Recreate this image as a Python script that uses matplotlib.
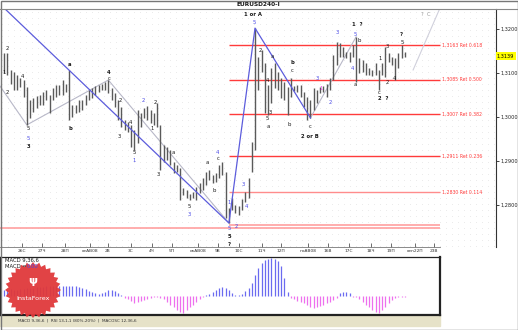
#!/usr/bin/env python3
"""EURUSD H4 wave count chart with fib levels and MACD histogram."""

import matplotlib
matplotlib.use("Agg")
import matplotlib.pyplot as plt
import numpy as np
from matplotlib.patches import Polygon, Rectangle

# ------------------------------------------------------------
# Data
# ------------------------------------------------------------
highs = [
    1.3145, 1.3145, 1.3107, 1.3102, 1.3095, 1.3089, 1.3084, 1.3068, 1.3039, 1.3043,
    1.3048, 1.3050, 1.3057, 1.3061, 1.3050, 1.3066, 1.3073, 1.3073, 1.3084, 1.3075,
    1.3107, 1.3027, 1.3027, 1.3039, 1.3039, 1.3050, 1.3061, 1.3066, 1.3070, 1.3073,
    1.3075, 1.3080, 1.3084, 1.3066, 1.3055, 1.3039, 1.3023, 1.2993, 1.2989, 1.2982,
    1.2970, 1.3016, 1.3009, 1.3020, 1.3025, 1.3016, 1.3009, 1.3032, 1.2982, 1.2936,
    1.2932, 1.2925, 1.2898, 1.2891, 1.2884, 1.2839, 1.2834, 1.2825, 1.2830, 1.2841,
    1.2850, 1.2861, 1.2875, 1.2880, 1.2868, 1.2873, 1.2891, 1.2898, 1.2875, 1.2793,
    1.2816, 1.2800, 1.2798, 1.2814, 1.2830, 1.2861, 1.2943, 1.3202, 1.3136, 1.3152,
    1.3123, 1.3073, 1.3111, 1.3123, 1.3102, 1.3089, 1.3080, 1.3068, 1.3089, 1.3070,
    1.3073, 1.3073, 1.3057, 1.3045, 1.3039, 1.3066, 1.3061, 1.3068, 1.3070, 1.3075,
    1.3089, 1.3141, 1.3170, 1.3168, 1.3159, 1.3148, 1.3148, 1.3163, 1.3182, 1.3134,
    1.3130, 1.3123, 1.3111, 1.3107, 1.3123, 1.3107, 1.3123, 1.3159, 1.3145, 1.3136,
    1.3134, 1.3145, 1.3163, 1.3148,
]
lows = [
    1.3100, 1.3095, 1.3075, 1.3061, 1.3061, 1.3068, 1.3045, 1.2982, 1.2998, 1.3011,
    1.3020, 1.3027, 1.3027, 1.3039, 1.3009, 1.3039, 1.3045, 1.3050, 1.3050, 1.3057,
    1.2993, 1.3000, 1.3009, 1.3011, 1.3016, 1.3027, 1.3039, 1.3043, 1.3050, 1.3057,
    1.3061, 1.3061, 1.3055, 1.3039, 1.3023, 1.2993, 1.2977, 1.2970, 1.2966, 1.2932,
    1.2925, 1.2941, 1.2977, 1.2998, 1.2993, 1.2986, 1.2982, 1.2977, 1.2880, 1.2898,
    1.2902, 1.2891, 1.2873, 1.2875, 1.2811, 1.2823, 1.2816, 1.2811, 1.2816, 1.2811,
    1.2827, 1.2834, 1.2845, 1.2857, 1.2850, 1.2852, 1.2861, 1.2868, 1.2770, 1.2759,
    1.2789, 1.2782, 1.2777, 1.2789, 1.2807, 1.2816, 1.2875, 1.2925, 1.3061, 1.3102,
    1.3009, 1.3005, 1.3032, 1.3066, 1.3061, 1.3043, 1.3039, 1.3005, 1.3045, 1.3059,
    1.3057, 1.3045, 1.3023, 1.2993, 1.2998, 1.3016, 1.3032, 1.3055, 1.3057, 1.3045,
    1.3061, 1.3084, 1.3118, 1.3136, 1.3136, 1.3134, 1.3125, 1.3136, 1.3080, 1.3100,
    1.3102, 1.3095, 1.3095, 1.3093, 1.3095, 1.3061, 1.3095, 1.3091, 1.3125, 1.3118,
    1.3084, 1.3111, 1.3134, 1.3136,
]
# MACD histogram, one value per bar
macd_hist = [
    0.0006, 0.0007, 0.0007, 0.0006, 0.0006, 0.0007, 0.0007, 0.0008, 0.0008, 0.0008,
    0.0009, 0.0009, 0.0009, 0.0010, 0.0010, 0.0010, 0.0011, 0.0011, 0.0011, 0.0011,
    0.0011, 0.0010, 0.0010, 0.0009, 0.0008, 0.0007, 0.0005, 0.0004, 0.0003, 0.0002,
    0.0003, 0.0004, 0.0006, 0.0006, 0.0005, 0.0003, 0.0001, -0.0002, -0.0003, -0.0005,
    -0.0007, -0.0006, -0.0005, -0.0004, -0.0003, -0.0002, -0.0001, -0.0001, -0.0002, -0.0003,
    -0.0006, -0.0009, -0.0011, -0.0014, -0.0016, -0.0017, -0.0014, -0.0011, -0.0009, -0.0006,
    -0.0003, -0.0001, 0.0001, 0.0002, 0.0004, 0.0006, 0.0008, 0.0009, 0.0008, 0.0006,
    0.0003, 0.0001, 0.0001, 0.0002, 0.0005, 0.0008, 0.0014, 0.0022, 0.0029, 0.0034,
    0.0037, 0.0038, 0.0039, 0.0038, 0.0036, 0.0031, 0.0019, 0.0004, -0.0002, -0.0003,
    -0.0005, -0.0006, -0.0007, -0.0009, -0.0011, -0.0012, -0.0011, -0.0010, -0.0009, -0.0007,
    -0.0006, -0.0004, -0.0002, 0.0003, 0.0004, 0.0004, 0.0003, -0.0001, -0.0001, -0.0003,
    -0.0006, -0.0009, -0.0011, -0.0014, -0.0016, -0.0017, -0.0014, -0.0011, -0.0007, -0.0004,
    -0.0002, -0.0001, -0.0001, -0.0001,
]
last_price = 1.3139

# fib retracements of the last swing
fib_levels = [1.3163, 1.3085, 1.3007, 1.2911, 1.2830]
fib_ratios = ["0.618", "0.500", "0.382", "0.236", "0.114"]
base_levels = [1.2755, 1.2748]

price_ticks = [1.2800, 1.2900, 1.3000, 1.3100, 1.3200]

# wave lines: pivots by bar index (None -> use explicit price)
blue_start = (-0.3, 1.3250)
blue_pivots = [(69, "low"), (77, "high"), (94, "low")]
gray_start = (-1.2, 1.3070)
gray_pivots_left = [(7, "low"), (32, "high"), (69, "low")]
gray_pivots_right = [(94, "low"), (108, "high")]
projection = [(125.5, 1.3107), (133.7, 1.3247)]

date_labels = ["26С", "27Ч", "28П", "сеАВ08", "2В", "3С", "4Ч", "5П", "окАВ08", "9В",
               "10С", "11Ч", "12П", "ноАВ08", "16В", "17С", "18Ч", "19П", "сеn22П", "23В"]
date_px = [22, 42, 65, 90, 108, 131, 152, 172, 198, 218,
           239, 262, 281, 308, 328, 349, 371, 391, 415, 434]

BLUE = "#4a4ae6"
GRAY = "#b8b8c8"
RED = "#ff3b3b"
K = "#1a1a1a"
PINK = "#ee44ee"

# wave labels: (x px, y px, text, colour, bold)
wave_labels = [
    (7, 49, "2", K, False), (4, 73, "1", K, False), (22, 77, "4", K, False), (7, 93, "2", K, False),
    (28, 129, "5", K, False), (28, 139, "5", BLUE, False), (28, 147, "3", K, True),
    (70, 65, "a", K, True), (70, 128, "b", K, True),
    (109, 72, "4", K, True), (109, 79, "c", K, False),
    (120, 100, "2", K, False), (119, 136, "3", K, False), (130, 122, "4", K, False),
    (134, 153, "5", K, False), (134, 161, "1", BLUE, False),
    (143, 101, "2", BLUE, False), (152, 129, "1", K, False), (155, 103, "2", K, False),
    (158, 175, "3", K, False),
    (173, 152, "a", K, False), (189, 206, "5", K, False), (189, 214, "3", BLUE, False),
    (207, 163, "a", K, False), (214, 191, "b", K, False), (217, 152, "4", BLUE, False),
    (218, 159, "c", K, False),
    (229, 203, "1", BLUE, False), (236, 226, "2", BLUE, False), (243, 185, "3", BLUE, False),
    (246, 207, "4", BLUE, False), (229, 229, "5", BLUE, False), (229, 237, "5", K, True),
    (229, 244, "?", K, True),
    (254, 22, "5", BLUE, False), (253, 14, "1 or A", K, True),
    (260, 50, "2", K, False), (272, 57, "a", K, False), (267, 81, "4", K, False),
    (270, 113, "3", K, False), (267, 119, "5", K, False), (268, 127, "a", K, False),
    (289, 125, "b", K, False), (292, 63, "b", K, True), (292, 71, "c", K, False),
    (310, 127, "c", K, False), (310, 136, "2 or B", K, True),
    (317, 78, "3", BLUE, False), (321, 89, "1", PINK, False), (330, 102, "2", BLUE, False),
    (337, 33, "3", BLUE, False), (355, 34, "5", BLUE, False), (359, 40, "b", K, False),
    (357, 24, "1  ?", K, True), (352, 68, "4", BLUE, False), (355, 85, "a", K, False),
    (380, 58, "1", K, False), (387, 46, "3", K, False), (387, 82, "2", K, False),
    (394, 79, "4", K, False), (379, 93, "c", K, False), (383, 99, "2  ?", K, True),
    (402, 43, "5", K, False), (401, 35, "?", K, True), (426, 14, "?  C", "#999999", False),
]

W, H = 518, 330
X0, DX = 4.0, 3.26  # pixel of bar 0, pixel step per bar


def px_to_idx(px):
    return (px - X0) / DX


def py_to_price(py):
    return 1.32659 - py / 4400.0


def pivot_price(i, kind):
    return highs[i] if kind == "high" else lows[i]


def main():
    fig = plt.figure(figsize=(W / 100, H / 100), dpi=100)
    fig.patch.set_facecolor("white")

    # ── dotted background ──
    bg = fig.add_axes([0, 0, 1, 1], zorder=0)
    bg.set_xlim(0, W)
    bg.set_ylim(H, 0)
    bg.axis("off")
    gx, gy = np.meshgrid(np.arange(2, 496, 6), np.arange(12, 247, 6))
    bg.scatter(gx.ravel(), gy.ravel(), s=0.15, color="#d0d0d0", linewidths=0)
    bg.add_patch(Rectangle((0, 315), 440, 11, color="#e6e2c8", zorder=1))

    # ── main price panel ──
    x_lo, x_hi = px_to_idx(0), px_to_idx(496)
    macd_hi = px_to_idx(440)
    ax = fig.add_axes([0, (H - 247) / H, 496 / W, (247 - 9) / H], zorder=2)
    ax.set_facecolor("none")
    ax.set_xlim(x_lo, x_hi)
    ax.set_ylim(py_to_price(247), py_to_price(9))

    idx = np.arange(len(highs))
    ax.vlines(idx, lows, highs, color="#5a5a5a", linewidth=1.0, zorder=3)

    # fib lines
    fib_x0 = 69
    for lvl, r in zip(fib_levels, fib_ratios):
        col = RED if lvl > 1.285 else "#ff8c8c"
        ax.hlines(lvl, fib_x0, macd_hi, color=col, linewidth=1.0, zorder=2)
        ax.text(px_to_idx(442), lvl, f"{lvl:.4f} Ret {r}".replace("1.", "1,", 1),
                color=RED, fontsize=3.3, va="center", ha="left")
    ax.hlines(base_levels[0], fib_x0, macd_hi, color="#ffa0a0", linewidth=1.2, zorder=2)
    ax.hlines(base_levels[1], x_lo, macd_hi, color="#ffa0a0", linewidth=1.2, zorder=2)

    # wave lines
    bx = [blue_start[0]] + [p[0] for p in blue_pivots]
    by = [blue_start[1]] + [pivot_price(*p) for p in blue_pivots]
    ax.plot(bx, by, color="#5c5cdc", linewidth=0.9, zorder=4)
    gxl = [gray_start[0]] + [p[0] for p in gray_pivots_left]
    gyl = [gray_start[1]] + [pivot_price(*p) for p in gray_pivots_left]
    ax.plot(gxl, gyl, color=GRAY, linewidth=0.8, zorder=2)
    ax.plot([p[0] for p in gray_pivots_right], [pivot_price(*p) for p in gray_pivots_right],
            color=GRAY, linewidth=0.8, zorder=2)
    ax.plot([p[0] for p in projection], [p[1] for p in projection],
            color="#d0d0dc", linewidth=0.8, zorder=2)

    # price axis on the right
    for s in ["top", "left"]:
        ax.spines[s].set_visible(False)
    ax.spines["right"].set_color("#333333")
    ax.spines["right"].set_linewidth(0.8)
    ax.yaxis.tick_right()
    ax.set_yticks(price_ticks)
    ax.set_yticklabels([f"{t:.4f}".replace(".", ",") for t in price_ticks])
    ax.tick_params(axis="y", length=2, width=0.6, labelsize=3.6, pad=1, colors="#222222")

    ax.set_xticks([px_to_idx(p) for p in date_px])
    ax.set_xticklabels(date_labels)
    ax.tick_params(axis="x", direction="in", length=3, width=0.5, labelsize=3.2,
                   pad=1.5, colors="#333333")
    ax.spines["bottom"].set_bounds(x_lo, macd_hi)
    ax.spines["bottom"].set_color("#777777")
    ax.spines["bottom"].set_linewidth(0.6)

    # last price box
    ax.text(x_hi + 0.3, last_price, f"{last_price:.4f}".replace(".", ","), fontsize=3.6,
            va="center", ha="left", color="black",
            bbox=dict(boxstyle="square,pad=0.25", fc="#ffff00", ec="none"))

    # ── MACD panel ──
    am = fig.add_axes([0, (H - 315) / H, 440 / W, (315 - 257) / H], zorder=2)
    am.set_facecolor("none")
    am.set_xlim(x_lo, macd_hi)
    am.set_ylim(-0.0019, 0.0040)
    hist = np.array(macd_hist)
    cols = np.where(hist >= 0, "#6b6bf0", "#ee70ee")
    am.vlines(idx, 0, hist, colors=cols, linewidth=0.9)
    am.set_xticks([])
    am.set_yticks([])
    for s in am.spines.values():
        s.set_color("#222222")
        s.set_linewidth(0.9)
    am.spines["bottom"].set_linewidth(1.6)
    am.spines["right"].set_linewidth(1.6)

    # ── overlay text in pixel coords ──
    ov = fig.add_axes([0, 0, 1, 1], zorder=5)
    ov.set_xlim(0, W)
    ov.set_ylim(H, 0)
    ov.axis("off")
    ov.add_patch(Rectangle((0.5, 0.5), W - 1, H - 1, fill=False, ec="#777777", lw=1.0))
    ov.plot([0, W], [8.5, 8.5], color="#888888", lw=0.8)
    ov.text(258, 4.5, "EURUSD240-I", fontsize=4.2, fontweight="bold", ha="center",
            va="center", color=K)

    for px, py, t, c, b in wave_labels:
        ov.text(px, py, t, fontsize=3.8, color=c, ha="center", va="center",
                fontweight="bold" if b else "normal")

    ov.text(5, 260, "MACD 9,36,6", fontsize=3.8, color=K, va="center")
    ov.text(5, 267, "MACD =", fontsize=3.8, color=K, va="center")
    ov.text(27, 267, "0.00", fontsize=3.8, color=BLUE, va="center")
    ov.text(18, 320, "MACD 9,36,6  |  RSI 13,1,1 (80%-20%)  |  MACOSC 12,36,6",
            fontsize=3.0, color="#333333", va="center")

    # InstaForex badge
    n = 28
    ang = np.linspace(0, 2 * np.pi, 2 * n, endpoint=False)
    rad = np.where(np.arange(2 * n) % 2 == 0, 28, 24.5)
    star = np.column_stack([33 + rad * np.cos(ang), 290 + rad * np.sin(ang)])
    ov.add_patch(Polygon(star, closed=True, fc="#e0393b", ec="none", alpha=0.95))
    ov.text(33, 281, "ψ", fontsize=8, color="white", ha="center", va="center",
            fontweight="bold")
    ov.text(33, 298, "InstaForex", fontsize=4.6, color="white", ha="center", va="center")

    fig.savefig("out.png", dpi=100)
    plt.close(fig)


if __name__ == "__main__":
    main()
